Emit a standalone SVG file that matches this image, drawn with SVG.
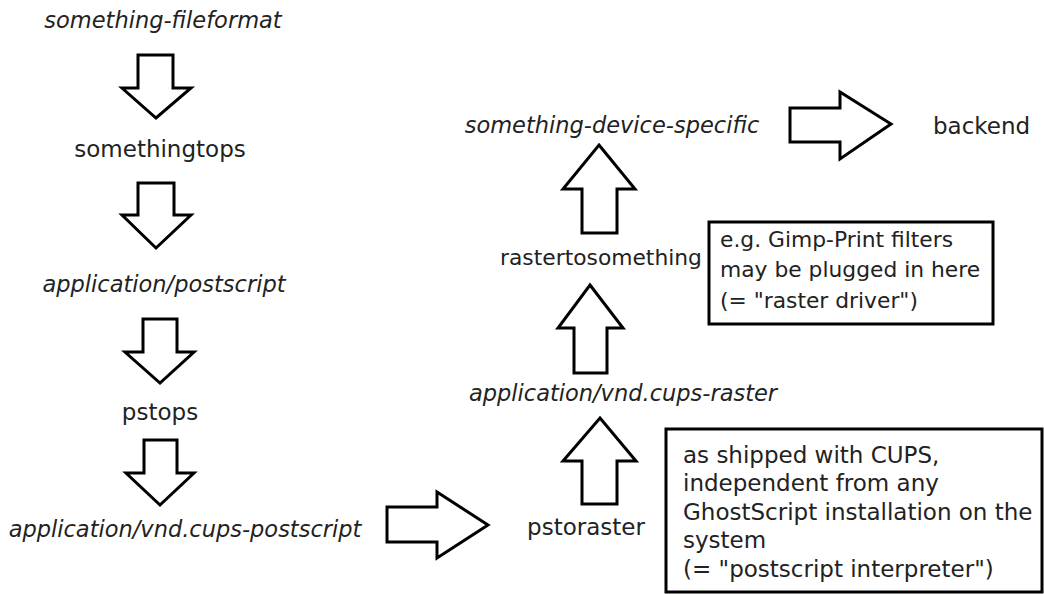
<svg xmlns="http://www.w3.org/2000/svg" width="1044" height="594" viewBox="0 0 1044 594">
<style>
.t{font-family:"DejaVu Sans","Verdana",sans-serif;font-size:23px;fill:#222}
.i{font-style:italic;font-size:22.5px}
.s{font-size:21.8px}
.m{text-anchor:middle}
.arr{fill:#fff;stroke:#000;stroke-width:3;stroke-linejoin:miter}
.box{fill:#fff;stroke:#000;stroke-width:3}
</style>
<rect width="1044" height="594" fill="#fff"/>
<g id="connectors">
<polygon class="arr" points="138,55 173,55 173,88 191,88 156,118 122,88 138,88"/>
<polygon class="arr" points="138,183 174,183 174,215 191,215 156,248 122,215 138,215"/>
<polygon class="arr" points="143,319 177,319 177,352 194,352 160,383 125,352 143,352"/>
<polygon class="arr" points="144,440 177,440 177,473 194,473 160,505 126,473 144,473"/>
<polygon class="arr" points="387,507 437,507 437,492 488,525 437,558 437,542 387,542"/>
<polygon class="arr" points="600,418 636,461 617,461 617,504 582,504 582,461 563,461"/>
<polygon class="arr" points="590,285 623,328 607,328 607,373 574,373 574,328 558,328"/>
<polygon class="arr" points="599,145 635,189 617,189 617,233 582,233 582,189 563,189"/>
<polygon class="arr" points="790,108 840,108 840,92 891,124 840,159 840,142 790,142"/>
</g>
<g id="n-fileformat"><text class="t i m" x="163" y="28">something-fileformat</text></g>
<g id="n-somethingtops"><text class="t m" x="160" y="157">somethingtops</text></g>
<g id="n-postscript"><text class="t i m" x="164" y="292">application/postscript</text></g>
<g id="n-pstops"><text class="t m" x="160" y="420">pstops</text></g>
<g id="n-cups-postscript"><text class="t i m" x="185" y="537">application/vnd.cups-postscript</text></g>
<g id="n-pstoraster"><text class="t m" x="586" y="535">pstoraster</text></g>
<g id="n-cups-raster"><text class="t i m" x="623" y="401">application/vnd.cups-raster</text></g>
<g id="n-rastertosomething"><text class="t s m" x="601" y="265">rastertosomething</text></g>
<g id="n-device-specific"><text class="t i m" x="612" y="133">something-device-specific</text></g>
<g id="n-backend"><text class="t" x="933" y="134">backend</text></g>
<g id="note-raster-driver">
<rect class="box" x="709" y="222" width="284" height="102"/>
<text class="t s" x="720" y="247">e.g. Gimp-Print filters</text>
<text class="t s" x="720" y="277">may be plugged in here</text>
<text class="t s" x="720" y="308">(= "raster driver")</text>
</g>
<g id="note-ps-interpreter">
<rect class="box" x="666" y="429" width="376" height="163"/>
<text class="t" x="683" y="463">as shipped with CUPS,</text>
<text class="t" x="683" y="491">independent from any</text>
<text class="t" x="683" y="520">GhostScript installation on the</text>
<text class="t" x="683" y="548">system</text>
<text class="t" x="683" y="577">(= "postscript interpreter")</text>
</g>
</svg>
